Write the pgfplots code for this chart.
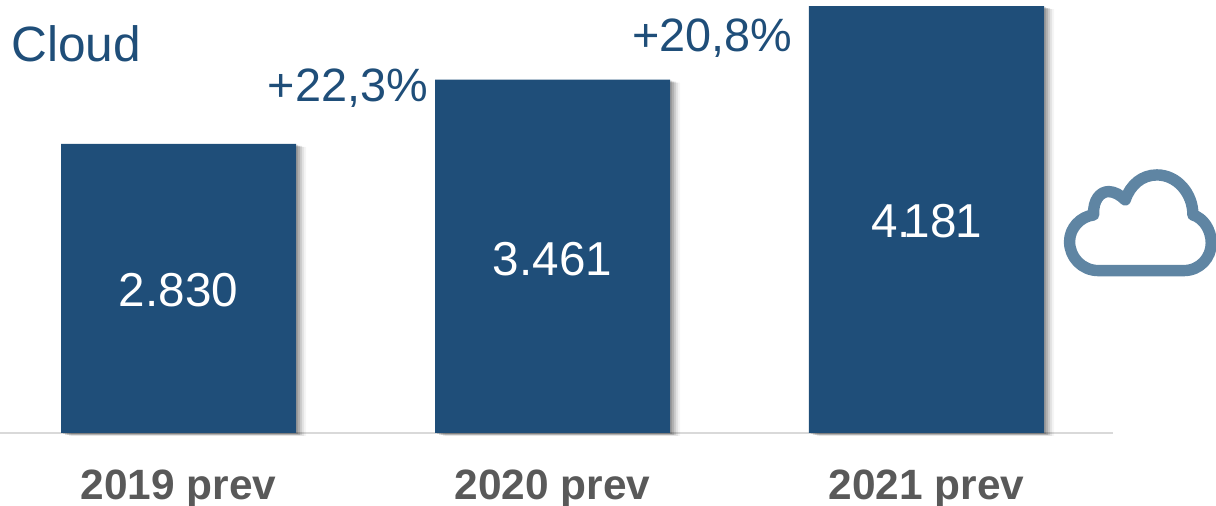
\documentclass[border=0pt]{standalone}
\usepackage{fontspec}
\setmainfont{Liberation Sans}
\usepackage{pgfplots}
\pgfplotsset{compat=1.18}
\definecolor{barblue}{HTML}{1F4E79}
\definecolor{cloudblue}{HTML}{5F85A3}
\definecolor{lblgray}{HTML}{595959}
\definecolor{baseline}{HTML}{D9D9D9}
\begin{document}
\begin{tikzpicture}
\path[use as bounding box] (0,0) rectangle (608pt,253pt);
\begin{axis}[
    at={(0pt,36.5pt)},
    anchor=south west,
    scale only axis,
    width=556.5pt,
    height=216.5pt,
    xmin=-0.4773, xmax=2.4987,
    ymin=0, ymax=4240,
    axis y line=none,
    axis x line=bottom,
    x axis line style={-,draw=baseline,line width=0.8pt},
    xtick={0,1,2},
    xticklabels={2019 prev,2020 prev,2021 prev},
    major tick length=0pt,
    xticklabel style={font=\fontsize{21.2}{21}\selectfont\bfseries,text=lblgray,anchor=center,yshift=-28pt},
    clip=false,
    bar width=117.5pt,
]
% soft shadow
\addplot[ybar,bar shift=1pt,yshift=-0.5pt,fill=black,fill opacity=0.14,draw=none,forget plot] coordinates {(0,2830) (1,3461) (2,4181)};
\addplot[ybar,bar shift=2pt,yshift=-1pt,fill=black,fill opacity=0.13,draw=none,forget plot] coordinates {(0,2830) (1,3461) (2,4181)};
\addplot[ybar,bar shift=3pt,yshift=-1pt,fill=black,fill opacity=0.10,draw=none,forget plot] coordinates {(0,2830) (1,3461) (2,4181)};
\addplot[ybar,bar shift=4pt,yshift=-1.5pt,fill=black,fill opacity=0.07,draw=none,forget plot] coordinates {(0,2830) (1,3461) (2,4181)};
\addplot[ybar,bar shift=5pt,yshift=-1.5pt,fill=black,fill opacity=0.04,draw=none,forget plot] coordinates {(0,2830) (1,3461) (2,4181)};
\addplot[ybar,bar shift=0pt,fill=barblue,draw=none] coordinates {(0,2830) (1,3461) (2,4181)};
\node[text=white,font=\fontsize{23.8}{24}\selectfont] at (axis cs:0,1395) {2.830};
\node[text=white,font=\fontsize{23.8}{24}\selectfont] at (axis cs:1,1705) {3.461};
\node[text=white,font=\fontsize{23.8}{24}\selectfont] at (axis cs:2,2070) {4.\kern-3.5pt 18\kern-0.8pt 1};
\node[text=barblue,font=\fontsize{23.4}{24}\selectfont,anchor=east] at (axis cs:0.6856,3380) {+22,3\%};
\node[text=barblue,font=\fontsize{23.4}{24}\selectfont,anchor=east] at (axis cs:1.660,3862) {+20,8\%};
\end{axis}
\node[text=barblue,font=\fontsize{24.8}{25}\selectfont,anchor=west,inner sep=0pt] at (5.5pt,231pt) {Cloud};
% cloud icon, path in pixels of the picture
\begin{scope}[x=0.1667pt,y=-0.1667pt,shift={(1040*3,-506*3+150*3)}]
\draw[cloudblue,line width=5.7pt,line cap=round,line join=round]
  (175,362) -- (430,362)
  .. controls (480,362) and (513,322) .. (513,280)
  .. controls (513,240) and (490,205) .. (458,195)
  .. controls (458,130) and (410,75) .. (350,75)
  .. controls (305,75) and (270,105) .. (255,150)
  .. controls (240,135) and (222,125) .. (205,125)
  .. controls (180,125) and (158,150) .. (160,195)
  .. controls (120,200) and (88,235) .. (88,275)
  .. controls (88,322) and (125,362) .. (175,362) -- cycle;
\end{scope}
\end{tikzpicture}
\end{document}
